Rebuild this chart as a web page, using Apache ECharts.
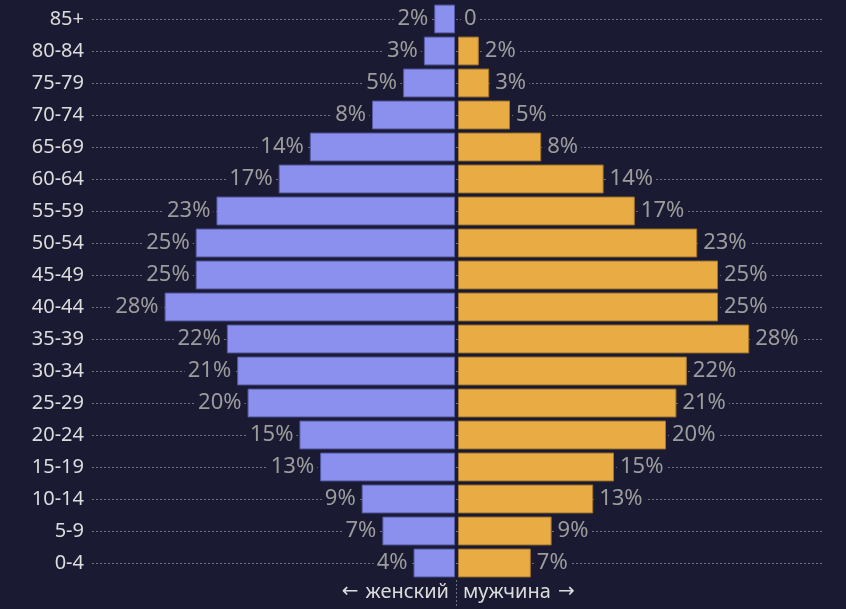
<!DOCTYPE html>
<html>
<head>
<meta charset="utf-8">
<script src="https://cdn.jsdelivr.net/npm/echarts@6/dist/echarts.min.js"></script>
<style>
  html, body { margin: 0; padding: 0; background: #1a1b33; }
  #main { width: 846px; height: 609px; }
</style>
</head>
<body>
<div id="main"></div>
<script>
// age groups, top to bottom
var ageGroups = ['85+', '80-84', '75-79', '70-74', '65-69', '60-64', '55-59', '50-54', '45-49',
  '40-44', '35-39', '30-34', '25-29', '20-24', '15-19', '10-14', '5-9', '0-4'];
var female = [2, 3, 5, 8, 14, 17, 23, 25, 25, 28, 22, 21, 20, 15, 13, 9, 7, 4];
var male = [0, 2, 3, 5, 8, 14, 17, 23, 25, 25, 28, 22, 21, 20, 15, 13, 9, 7];
var axisMax = 35;

var chart = echarts.init(document.getElementById('main'));

var labelStyle = {
  show: true,
  color: '#9c9c9c',
  fontSize: 22,
  fontFamily: 'Noto Sans',
  backgroundColor: '#1a1b33',
  padding: [0, 3],
  distance: 3,
  formatter: function (p) { return p.value ? p.value + '%' : '0'; }
};

// hide the outline of zero-length bars
function toBarData(arr) {
  return arr.map(function (v) {
    return v === 0 ? { value: 0, itemStyle: { borderWidth: 0 } } : v;
  });
}

var arrowRich = {
  al: { fontFamily: 'DejaVu Sans', fontSize: 20, fill: '#dcdcdc', color: '#dcdcdc', padding: [0, 7, 0, 0] },
  ar: { fontFamily: 'DejaVu Sans', fontSize: 20, fill: '#dcdcdc', color: '#dcdcdc', padding: [0, 0, 0, 7] },
  t: { fontFamily: 'Noto Sans', fontSize: 20, fill: '#dcdcdc', color: '#dcdcdc' }
};

var option = {
  backgroundColor: '#1a1b33',
  animation: false,
  grid: [
    // background grid: dotted row lines + age labels
    { left: 92, right: 24, top: 19, bottom: 46 },
    // women (left)
    { left: 92, width: 363, top: 3, bottom: 30 },
    // men (right)
    { left: 458, width: 364, top: 3, bottom: 30 }
  ],
  xAxis: [
    { gridIndex: 0, type: 'value', show: false, min: 0, max: 1 },
    { gridIndex: 1, type: 'value', show: false, min: 0, max: axisMax, inverse: true },
    { gridIndex: 2, type: 'value', show: false, min: 0, max: axisMax }
  ],
  yAxis: [
    {
      gridIndex: 0, type: 'category', data: ageGroups, inverse: true, boundaryGap: false,
      axisLine: { show: false }, axisTick: { show: false },
      axisLabel: { color: '#dcdcdc', fontSize: 20, fontFamily: 'Noto Sans', margin: 8 },
      splitLine: { show: true, lineStyle: { color: '#70707e', type: [2, 2], width: 1 } }
    },
    { gridIndex: 1, type: 'category', data: ageGroups, inverse: true, show: false },
    { gridIndex: 2, type: 'category', data: ageGroups, inverse: true, show: false }
  ],
  series: [
    {
      name: 'женский', type: 'bar', xAxisIndex: 1, yAxisIndex: 1, data: toBarData(female),
      barCategoryGap: '10%',
      itemStyle: { color: '#8b90ee', borderColor: '#565ba6', borderWidth: 1 },
      label: Object.assign({}, labelStyle, { position: 'left' })
    },
    {
      name: 'мужчина', type: 'bar', xAxisIndex: 2, yAxisIndex: 2, data: toBarData(male),
      barCategoryGap: '10%',
      itemStyle: { color: '#e9ac44', borderColor: '#a5772b', borderWidth: 1 },
      label: Object.assign({}, labelStyle, { position: 'right' })
    }
  ],
  graphic: [
    {
      type: 'line', shape: { x1: 456.5, y1: 580, x2: 456.5, y2: 606 },
      style: { stroke: '#70707e', lineWidth: 1, lineDash: [2, 2] }
    },
    {
      type: 'text', right: 846 - 449, top: 582,
      style: { text: '{al|←}{t|женский}', rich: arrowRich }
    },
    {
      type: 'text', left: 463, top: 582,
      style: { text: '{t|мужчина}{ar|→}', rich: arrowRich }
    }
  ]
};

chart.setOption(option);
</script>
</body>
</html>
